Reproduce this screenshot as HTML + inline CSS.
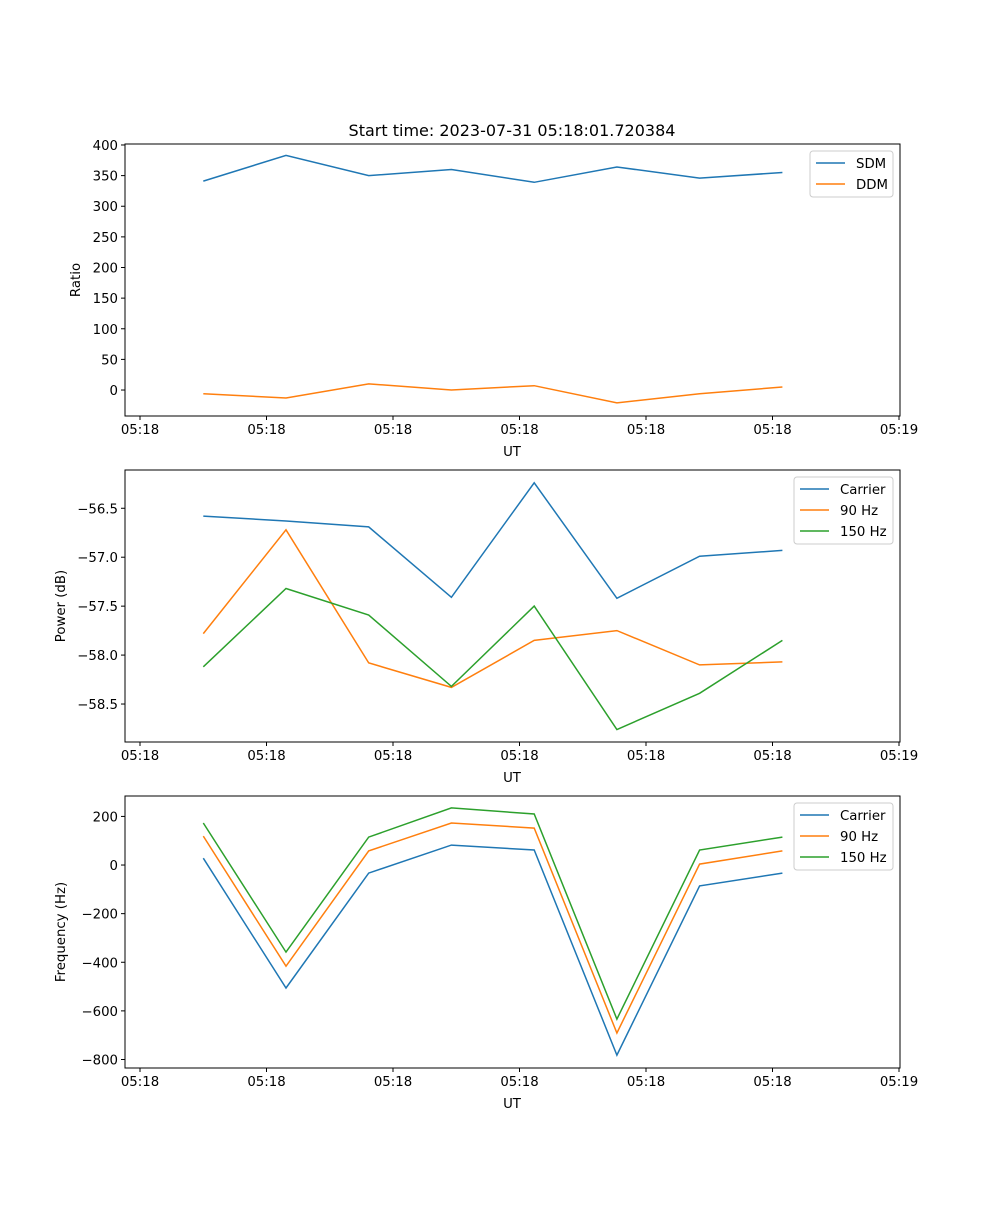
<!DOCTYPE html>
<html><head><meta charset="utf-8"><style>
body{margin:0;background:#fff}
svg text{font-family:"DejaVu Sans","Liberation Sans",sans-serif;font-size:13.3px;fill:#000}
</style></head><body>
<svg id="chart" width="1000" height="1200" xmlns="http://www.w3.org/2000/svg">
<rect width="1000" height="1200" fill="#fff"/>
<text x="512" y="136" text-anchor="middle" style="font-size:16px">Start time: 2023-07-31 05:18:01.720384</text>
</svg>
<script>
const times = [0.5, 1.154, 1.808, 2.462, 3.116, 3.77, 4.424, 5.078];
const xTickLabels = ["05:18","05:18","05:18","05:18","05:18","05:18","05:19"];
const sdm = [341, 383, 350, 360, 339, 364, 346, 355];
const ddm = [-6, -13, 10, 0, 7, -21, -6, 5];
const powCarrier = [-56.58, -56.63, -56.69, -57.41, -56.24, -57.42, -56.99, -56.93];
const pow90 = [-57.78, -56.72, -58.08, -58.33, -57.85, -57.75, -58.10, -58.07];
const pow150 = [-58.12, -57.32, -57.59, -58.32, -57.50, -58.76, -58.39, -57.85];
const freqCarrier = [28, -506, -33, 82, 62, -782, -86, -33];
const freq90 = [119, -416, 58, 173, 152, -691, 4, 58];
const freq150 = [173, -358, 115, 235, 210, -634, 62, 115];
const ratioTicks = [0,50,100,150,200,250,300,350,400];
const powTicks = [-56.5,-57.0,-57.5,-58.0,-58.5];
const freqTicks = [200,0,-200,-400,-600,-800];

const NS="http://www.w3.org/2000/svg";
const svg=document.getElementById('chart');
const C={b:'#1f77b4',o:'#ff7f0e',g:'#2ca02c'};
function el(t,a,p){const e=document.createElementNS(NS,t);for(const k in a)e.setAttribute(k,a[k]);(p||svg).appendChild(e);return e;}
const L=125,R=900;
const xs=t=>140+t*126.5;
function fmt(v,d){const s=Math.abs(v).toFixed(d);return (v<0?'\u2212':'')+s;}
function panel(name,top,ymax,ymin,ticks,dec,ylabel,series,legend){
  const bot=top+272;
  const ys=v=>top+(ymax-v)/(ymax-ymin)*272;
  const g=el('g',{});
  
  
  const fr=el('rect',{x:L,y:top,width:R-L,height:272,fill:'none',stroke:'#000','stroke-width':1},g);
  
  
  xTickLabels.forEach((lab,i)=>{
    const x=xs(i);
    el('line',{x1:x,x2:x,y1:bot,y2:bot+4,stroke:'#000'},g);
    const t=el('text',{x:x,y:bot+18,'text-anchor':'middle'},g);t.textContent=lab;
    
    
  });
  const xl=el('text',{x:512,y:bot+40,'text-anchor':'middle'},g);xl.textContent='UT';
  
  
  ticks.forEach(v=>{
    const y=ys(v);
    el('line',{x1:L-4,x2:L,y1:y,y2:y,stroke:'#000'},g);
    const t=el('text',{x:L-7,y:y+5,'text-anchor':'end'},g);t.textContent=fmt(v,dec);
    
    
  });
  const yl=el('text',{x:0,y:0,'text-anchor':'middle',transform:`translate(${name==='ratio'?80:65},${top+136}) rotate(-90)`},g);yl.textContent=ylabel;
  
  
  series.forEach(s=>{
    const d=s.v.map((v,i)=>(i?'L':'M')+xs(times[i]).toFixed(1)+','+ys(v).toFixed(1)).join('');
    const p=el('path',{d:d,fill:'none',stroke:s.c,'stroke-width':1.5},g);
    
    
  });
  const lw=legend.w, lx=R-7-lw, ly=top+7, lh=series.length*21+4;
  const lg=el('g',{},g);
  
  
  el('rect',{x:lx,y:ly,width:lw,height:lh,rx:3,fill:'#fff',stroke:'#ccc'},lg);
  series.forEach((s,i)=>{
    const y=ly+12+i*21;
    el('line',{x1:lx+6,x2:lx+35,y1:y,y2:y,stroke:s.c,'stroke-width':1.5},lg);
    const t=el('text',{x:lx+46,y:y+5},lg);t.textContent=s.n;
    
    
  });
}
panel('ratio',144,401.6,-42.4,ratioTicks,0,'Ratio',[{v:sdm,c:C.b,n:'SDM'},{v:ddm,c:C.o,n:'DDM'}],{w:83});
panel('power',470,-56.109,-58.888,powTicks,1,'Power (dB)',[{v:powCarrier,c:C.b,n:'Carrier'},{v:pow90,c:C.o,n:'90 Hz'},{v:pow150,c:C.g,n:'150 Hz'}],{w:99});
panel('frequency',796,284,-835,freqTicks,0,'Frequency (Hz)',[{v:freqCarrier,c:C.b,n:'Carrier'},{v:freq90,c:C.o,n:'90 Hz'},{v:freq150,c:C.g,n:'150 Hz'}],{w:99});
</script>
</body></html>
